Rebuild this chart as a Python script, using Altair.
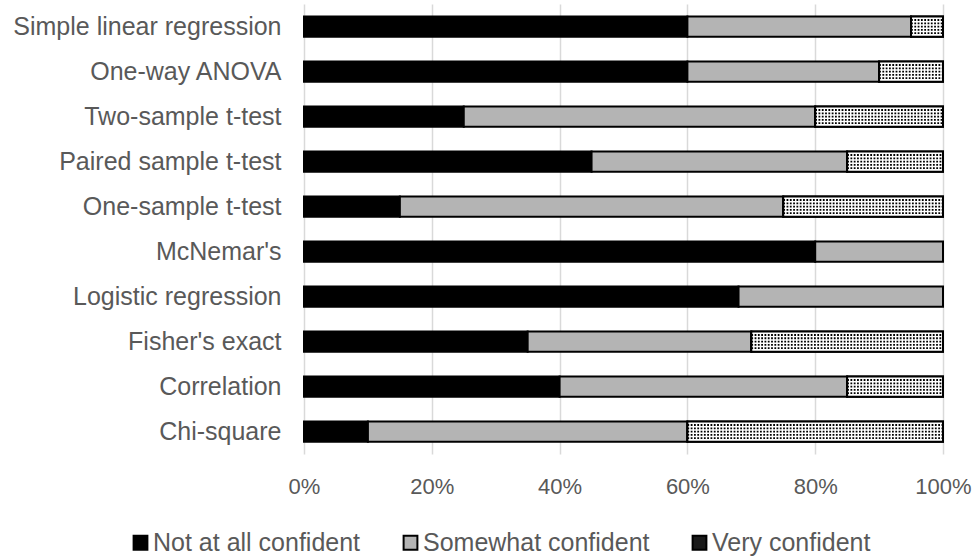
import altair as alt
import pandas as pd

categories = ["Simple linear regression", "One-way ANOVA", "Two-sample t-test",
              "Paired sample t-test", "One-sample t-test", "McNemar's",
              "Logistic regression", "Fisher's exact", "Correlation", "Chi-square"]
not_at_all = [60, 60, 25, 45, 15, 80, 68, 35, 40, 10]
somewhat   = [35, 30, 55, 40, 60, 20, 32, 35, 45, 50]
very       = [5, 10, 20, 15, 25, 0, 0, 30, 15, 40]
levels = ["Not at all confident", "Somewhat confident", "Very confident"]
x_ticks = [0, 0.2, 0.4, 0.6, 0.8, 1.0]

rows = []
for c, a, b, v in zip(categories, not_at_all, somewhat, very):
    start = 0
    for lvl, val in zip(levels, [a, b, v]):
        rows.append({"cat": c, "level": lvl, "start": start / 100, "end": (start + val) / 100})
        start += val
df = pd.DataFrame(rows)

FONT = "Liberation Sans"
TXT = "#595959"

yenc = alt.Y("cat:N", sort=categories, title=None,
             scale=alt.Scale(paddingInner=0.55, paddingOuter=0.275),
             axis=alt.Axis(domain=False, ticks=False, labelFontSize=25, labelColor=TXT,
                           labelFont=FONT, labelPadding=23, grid=False, labelLimit=500))
xenc = alt.X("start:Q", title=None,
             scale=alt.Scale(domain=[0, 1], nice=False),
             axis=alt.Axis(values=x_ticks, format=".0%", domain=False, ticks=False,
                           labelFontSize=22, labelColor=TXT, labelFont=FONT,
                           labelPadding=22, labelFlush=False, grid=True,
                           gridColor="#d9d9d9", gridWidth=1.5))

bars = alt.Chart(df).mark_bar(stroke="black", strokeWidth=2).encode(
    y=yenc, x=xenc, x2="end:Q",
    color=alt.Color("level:N", sort=levels, title=None,
                    scale=alt.Scale(domain=levels, range=["#000000", "#b4b4b4", "#1a1a1a"]),
                    legend=alt.Legend(orient="none", direction="horizontal",
                                      legendX=-176, legendY=526,
                                      symbolType="square", symbolSize=190,
                                      symbolStrokeColor="black", symbolStrokeWidth=2,
                                      labelFontSize=25, labelColor=TXT, labelFont=FONT,
                                      labelOffset=0, columnPadding=37,
                                      labelLimit=500)),
)

very_df = df[(df["level"] == "Very confident") & (df["end"] > df["start"])]

white = alt.Chart(very_df).mark_bar(fill="white", stroke="black", strokeWidth=2).encode(
    y=alt.Y("cat:N", sort=categories), x="start:Q", x2="end:Q")

layers = [bars, white]
# dotted fill rows inside the bar (offsets measured from the band's top edge)
offsets = [3.6, 6.9, 10.2, 13.5, 16.8]
for i, off in enumerate(offsets):
    layers.append(
        alt.Chart(very_df).mark_rule(stroke="black", strokeWidth=1.8,
                                     strokeDash=[1.8, 1.5]).encode(
            y=alt.Y("cat:N", sort=categories),
            x="start:Q", x2="end:Q",
            yOffset=alt.value(off))
    )

chart = alt.layer(*layers).properties(
    width=639, height=450,
    autosize=alt.AutoSizeParams(type="none"),
    padding={"left": 304, "top": 4, "right": 36, "bottom": 106},
).configure_view(stroke=None)

chart.save("out.html", embed_options={"renderer": "svg", "actions": False})
